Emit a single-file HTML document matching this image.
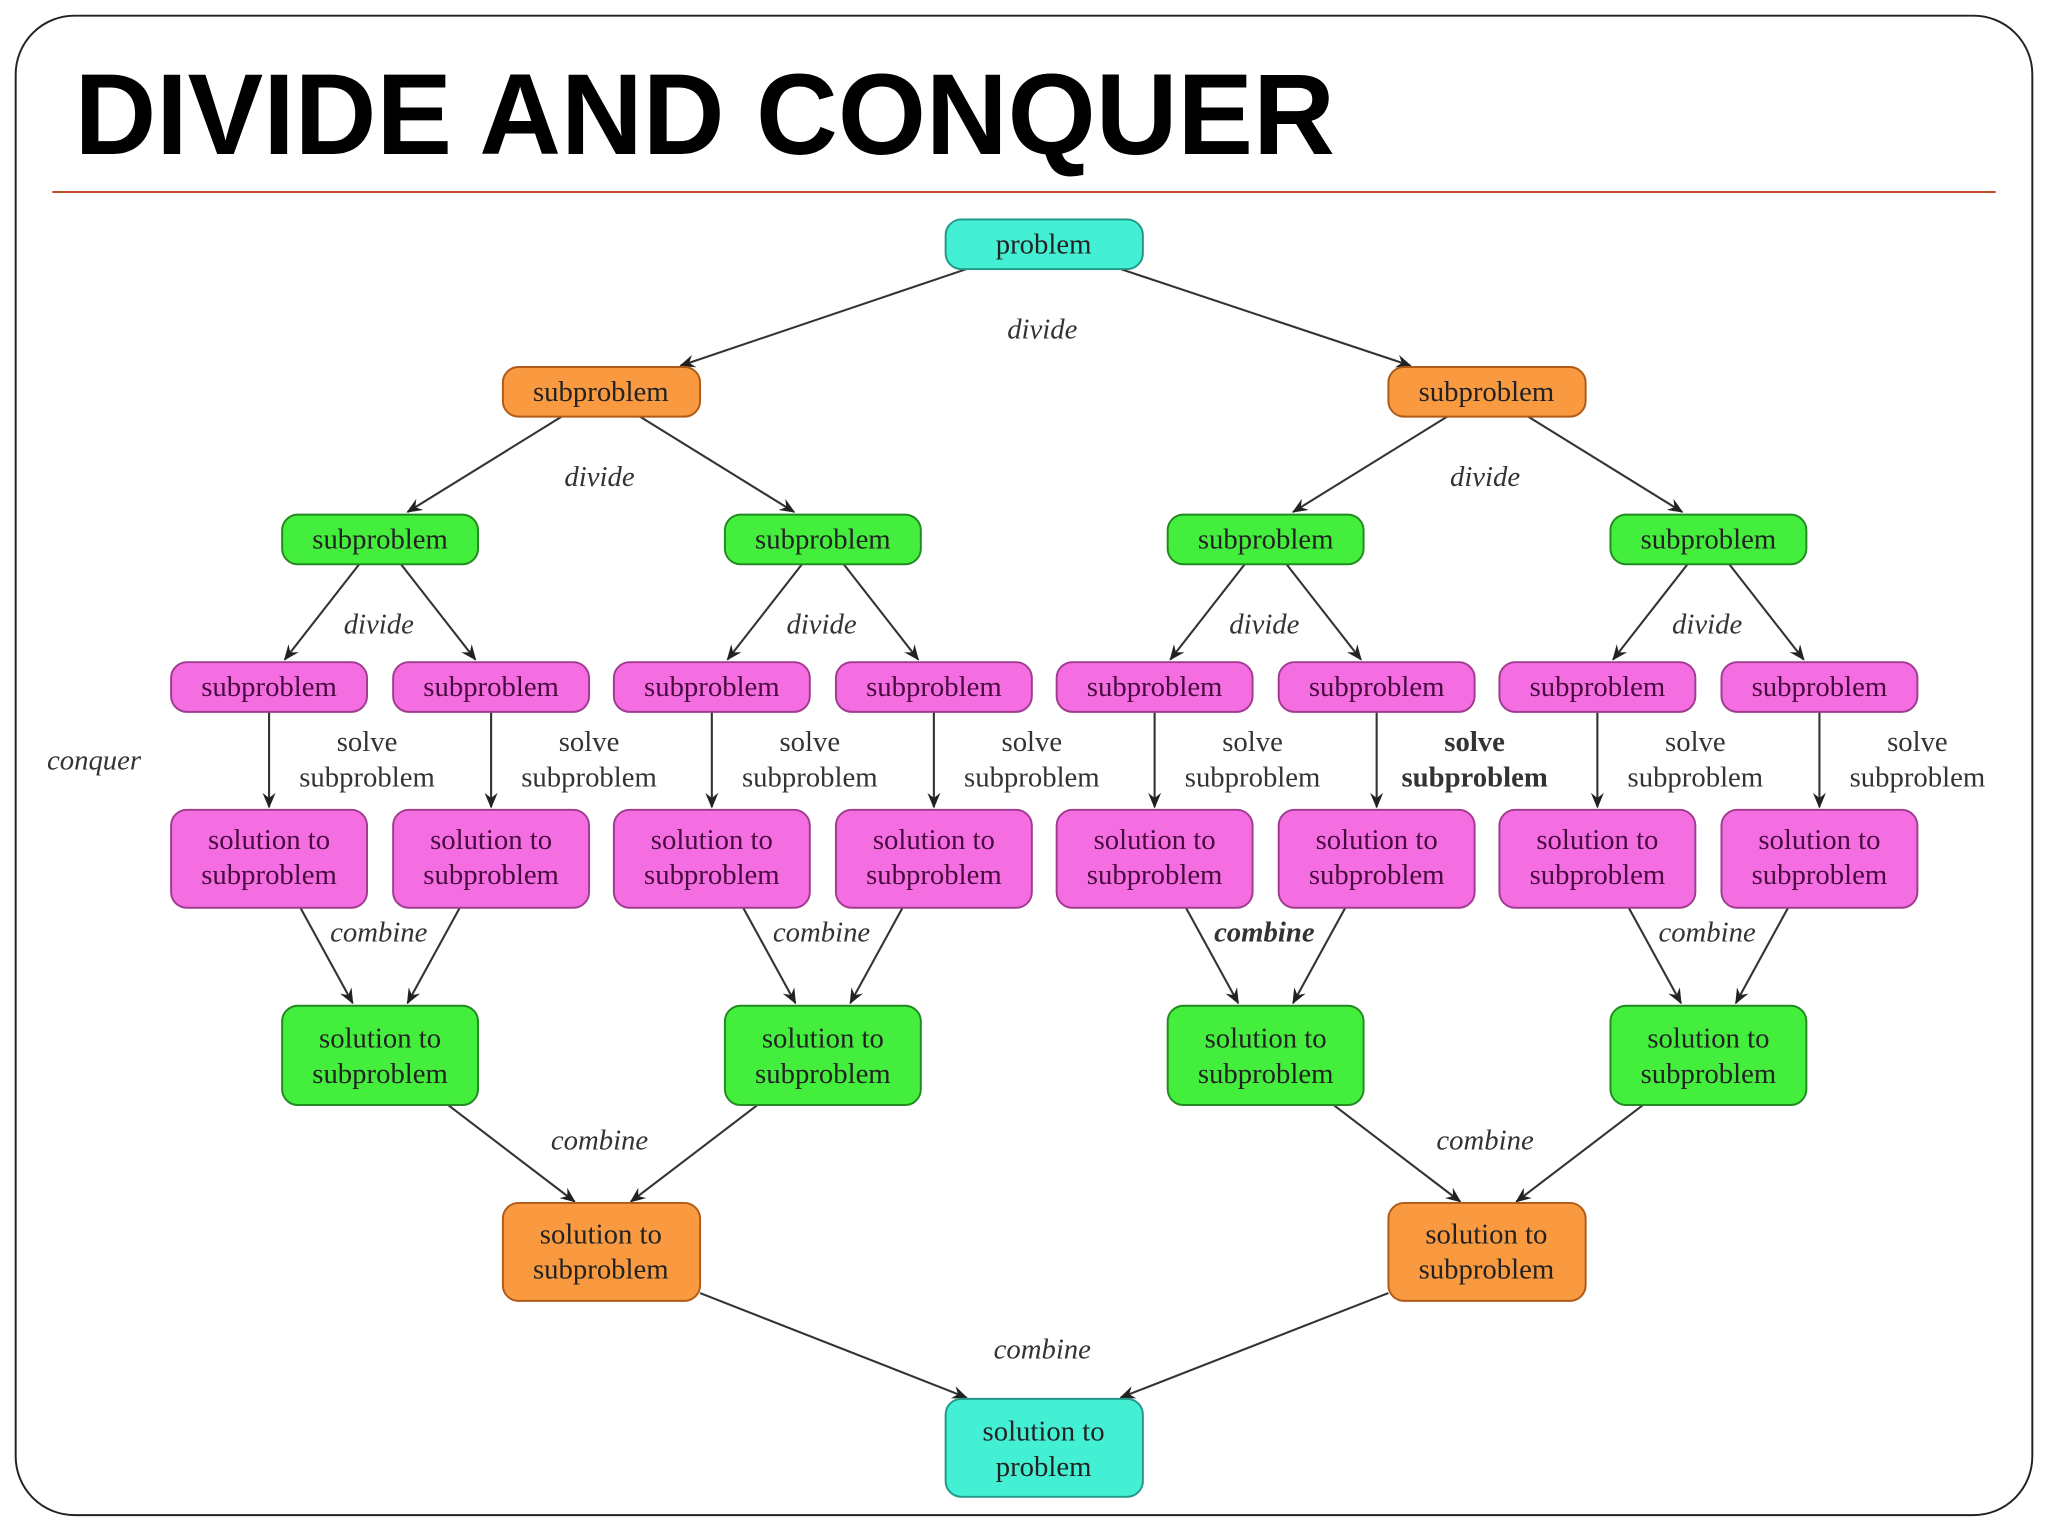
<!DOCTYPE html>
<html><head><meta charset="utf-8"><style>
html,body{margin:0;padding:0;background:#fff;width:2048px;height:1536px;overflow:hidden}
svg{display:block}
.t{font-family:"Liberation Serif",serif;font-size:22px;text-anchor:middle}
.l{font-family:"Liberation Serif",serif;font-size:22px;font-style:italic;text-anchor:middle;fill:#333}
.s{font-family:"Liberation Serif",serif;font-size:22px;text-anchor:middle;fill:#333}
line{stroke:#333;stroke-width:1.6}
</style></head><body>
<svg width="2048" height="1536" viewBox="0 0 1568 1176" xmlns="http://www.w3.org/2000/svg">
<defs><marker id="a" viewBox="0 0 12 10" refX="11" refY="5" markerWidth="12" markerHeight="10" markerUnits="userSpaceOnUse" orient="auto"><path d="M0,0 L12,5 L0,10 L4,5z" fill="#222"/></marker></defs>
<rect x="12" y="12" width="1544" height="1148" rx="45" fill="#fff" stroke="#222" stroke-width="1.5"/>
<text x="57" y="118" textLength="965" lengthAdjust="spacingAndGlyphs" style="font-family:'Liberation Sans',sans-serif;font-weight:bold;font-size:88px;fill:#000">DIVIDE AND CONQUER</text>
<line x1="40" y1="147" x2="1528" y2="147" style="stroke:#c0502a;stroke-width:1.5"/>
<g marker-end="url(#a)">
<line x1="740" y1="206" x2="521" y2="280"/><line x1="858" y1="206" x2="1080" y2="280"/>
<line x1="430" y1="319" x2="312" y2="392"/><line x1="490" y1="319" x2="608" y2="392"/>
<line x1="1108" y1="319" x2="990" y2="392"/><line x1="1170" y1="319" x2="1288" y2="392"/>
<line x1="275" y1="432" x2="218" y2="505"/><line x1="307" y1="432" x2="364" y2="505"/>
<line x1="614" y1="432" x2="557" y2="505"/><line x1="646" y1="432" x2="703" y2="505"/>
<line x1="953" y1="432" x2="896" y2="505"/><line x1="985" y1="432" x2="1042" y2="505"/>
<line x1="1292" y1="432" x2="1235" y2="505"/><line x1="1324" y1="432" x2="1381" y2="505"/>
<line x1="206" y1="545" x2="206" y2="618"/><line x1="376" y1="545" x2="376" y2="618"/>
<line x1="545" y1="545" x2="545" y2="618"/><line x1="715" y1="545" x2="715" y2="618"/>
<line x1="884" y1="545" x2="884" y2="618"/><line x1="1054" y1="545" x2="1054" y2="618"/>
<line x1="1223" y1="545" x2="1223" y2="618"/><line x1="1393" y1="545" x2="1393" y2="618"/>
<line x1="230" y1="695" x2="270" y2="768"/><line x1="352" y1="695" x2="312" y2="768"/>
<line x1="569" y1="695" x2="609" y2="768"/><line x1="691" y1="695" x2="651" y2="768"/>
<line x1="908" y1="695" x2="948" y2="768"/><line x1="1030" y1="695" x2="990" y2="768"/>
<line x1="1247" y1="695" x2="1287" y2="768"/><line x1="1369" y1="695" x2="1329" y2="768"/>
<line x1="343" y1="846" x2="440" y2="920"/><line x1="580" y1="846" x2="483" y2="920"/>
<line x1="1021" y1="846" x2="1118" y2="920"/><line x1="1258" y1="846" x2="1161" y2="920"/>
<line x1="536" y1="990" x2="740" y2="1070"/><line x1="1063" y1="990" x2="858" y2="1070"/>
</g>
<g class="l">
<text x="798" y="259">divide</text>
<text x="459" y="372">divide</text><text x="1137" y="372">divide</text>
<text x="290" y="485">divide</text><text x="629" y="485">divide</text><text x="968" y="485">divide</text><text x="1307" y="485">divide</text>
<text x="72" y="589">conquer</text>
<text x="290" y="721">combine</text><text x="629" y="721">combine</text><text x="968" y="721" style="font-weight:bold">combine</text><text x="1307" y="721">combine</text>
<text x="459" y="880">combine</text><text x="1137" y="880">combine</text>
<text x="798" y="1040">combine</text>
</g>
<g class="s">
<text x="281" y="575">solve</text><text x="281" y="602">subproblem</text>
<text x="451" y="575">solve</text><text x="451" y="602">subproblem</text>
<text x="620" y="575">solve</text><text x="620" y="602">subproblem</text>
<text x="790" y="575">solve</text><text x="790" y="602">subproblem</text>
<text x="959" y="575">solve</text><text x="959" y="602">subproblem</text>
<text x="1129" y="575" style="font-weight:bold">solve</text><text x="1129" y="602" style="font-weight:bold">subproblem</text>
<text x="1298" y="575">solve</text><text x="1298" y="602">subproblem</text>
<text x="1468" y="575">solve</text><text x="1468" y="602">subproblem</text>
</g>
<!-- nodes -->
<g stroke-width="1.5">
<rect x="724" y="168" width="151" height="38" rx="12" fill="#44f0d4" stroke="#229988"/>
<rect x="385" y="281" width="151" height="38" rx="12" fill="#f99a40" stroke="#b05a18"/>
<rect x="1063" y="281" width="151" height="38" rx="12" fill="#f99a40" stroke="#b05a18"/>
<g fill="#44ee3c" stroke="#238a22">
<rect x="216" y="394" width="150" height="38" rx="12"/><rect x="555" y="394" width="150" height="38" rx="12"/>
<rect x="894" y="394" width="150" height="38" rx="12"/><rect x="1233" y="394" width="150" height="38" rx="12"/>
<rect x="216" y="770" width="150" height="76" rx="12"/><rect x="555" y="770" width="150" height="76" rx="12"/>
<rect x="894" y="770" width="150" height="76" rx="12"/><rect x="1233" y="770" width="150" height="76" rx="12"/>
</g>
<g fill="#f46ee2" stroke="#a03c90">
<rect x="131" y="507" width="150" height="38" rx="12"/><rect x="301" y="507" width="150" height="38" rx="12"/>
<rect x="470" y="507" width="150" height="38" rx="12"/><rect x="640" y="507" width="150" height="38" rx="12"/>
<rect x="809" y="507" width="150" height="38" rx="12"/><rect x="979" y="507" width="150" height="38" rx="12"/>
<rect x="1148" y="507" width="150" height="38" rx="12"/><rect x="1318" y="507" width="150" height="38" rx="12"/>
<rect x="131" y="620" width="150" height="75" rx="12"/><rect x="301" y="620" width="150" height="75" rx="12"/>
<rect x="470" y="620" width="150" height="75" rx="12"/><rect x="640" y="620" width="150" height="75" rx="12"/>
<rect x="809" y="620" width="150" height="75" rx="12"/><rect x="979" y="620" width="150" height="75" rx="12"/>
<rect x="1148" y="620" width="150" height="75" rx="12"/><rect x="1318" y="620" width="150" height="75" rx="12"/>
</g>
<rect x="385" y="921" width="151" height="75" rx="12" fill="#f99a40" stroke="#b05a18"/>
<rect x="1063" y="921" width="151" height="75" rx="12" fill="#f99a40" stroke="#b05a18"/>
<rect x="724" y="1071" width="151" height="75" rx="12" fill="#44f0d4" stroke="#229988"/>
</g>
<g class="t" fill="#222">
<text x="799" y="194">problem</text>
<text x="460" y="307">subproblem</text><text x="1138" y="307">subproblem</text>
<text x="291" y="420">subproblem</text><text x="630" y="420">subproblem</text><text x="969" y="420">subproblem</text><text x="1308" y="420">subproblem</text>
<text x="291" y="802">solution to</text><text x="291" y="829">subproblem</text>
<text x="630" y="802">solution to</text><text x="630" y="829">subproblem</text>
<text x="969" y="802">solution to</text><text x="969" y="829">subproblem</text>
<text x="1308" y="802">solution to</text><text x="1308" y="829">subproblem</text>
<text x="460" y="952">solution to</text><text x="460" y="979">subproblem</text>
<text x="1138" y="952">solution to</text><text x="1138" y="979">subproblem</text>
<text x="799" y="1103">solution to</text><text x="799" y="1130">problem</text>
</g>
<g class="t" fill="#4a0a40">
<text x="206" y="533">subproblem</text><text x="376" y="533">subproblem</text><text x="545" y="533">subproblem</text><text x="715" y="533">subproblem</text>
<text x="884" y="533">subproblem</text><text x="1054" y="533">subproblem</text><text x="1223" y="533">subproblem</text><text x="1393" y="533">subproblem</text>
<text x="206" y="650">solution to</text><text x="206" y="677">subproblem</text>
<text x="376" y="650">solution to</text><text x="376" y="677">subproblem</text>
<text x="545" y="650">solution to</text><text x="545" y="677">subproblem</text>
<text x="715" y="650">solution to</text><text x="715" y="677">subproblem</text>
<text x="884" y="650">solution to</text><text x="884" y="677">subproblem</text>
<text x="1054" y="650">solution to</text><text x="1054" y="677">subproblem</text>
<text x="1223" y="650">solution to</text><text x="1223" y="677">subproblem</text>
<text x="1393" y="650">solution to</text><text x="1393" y="677">subproblem</text>
</g>
</svg>
</body></html>
